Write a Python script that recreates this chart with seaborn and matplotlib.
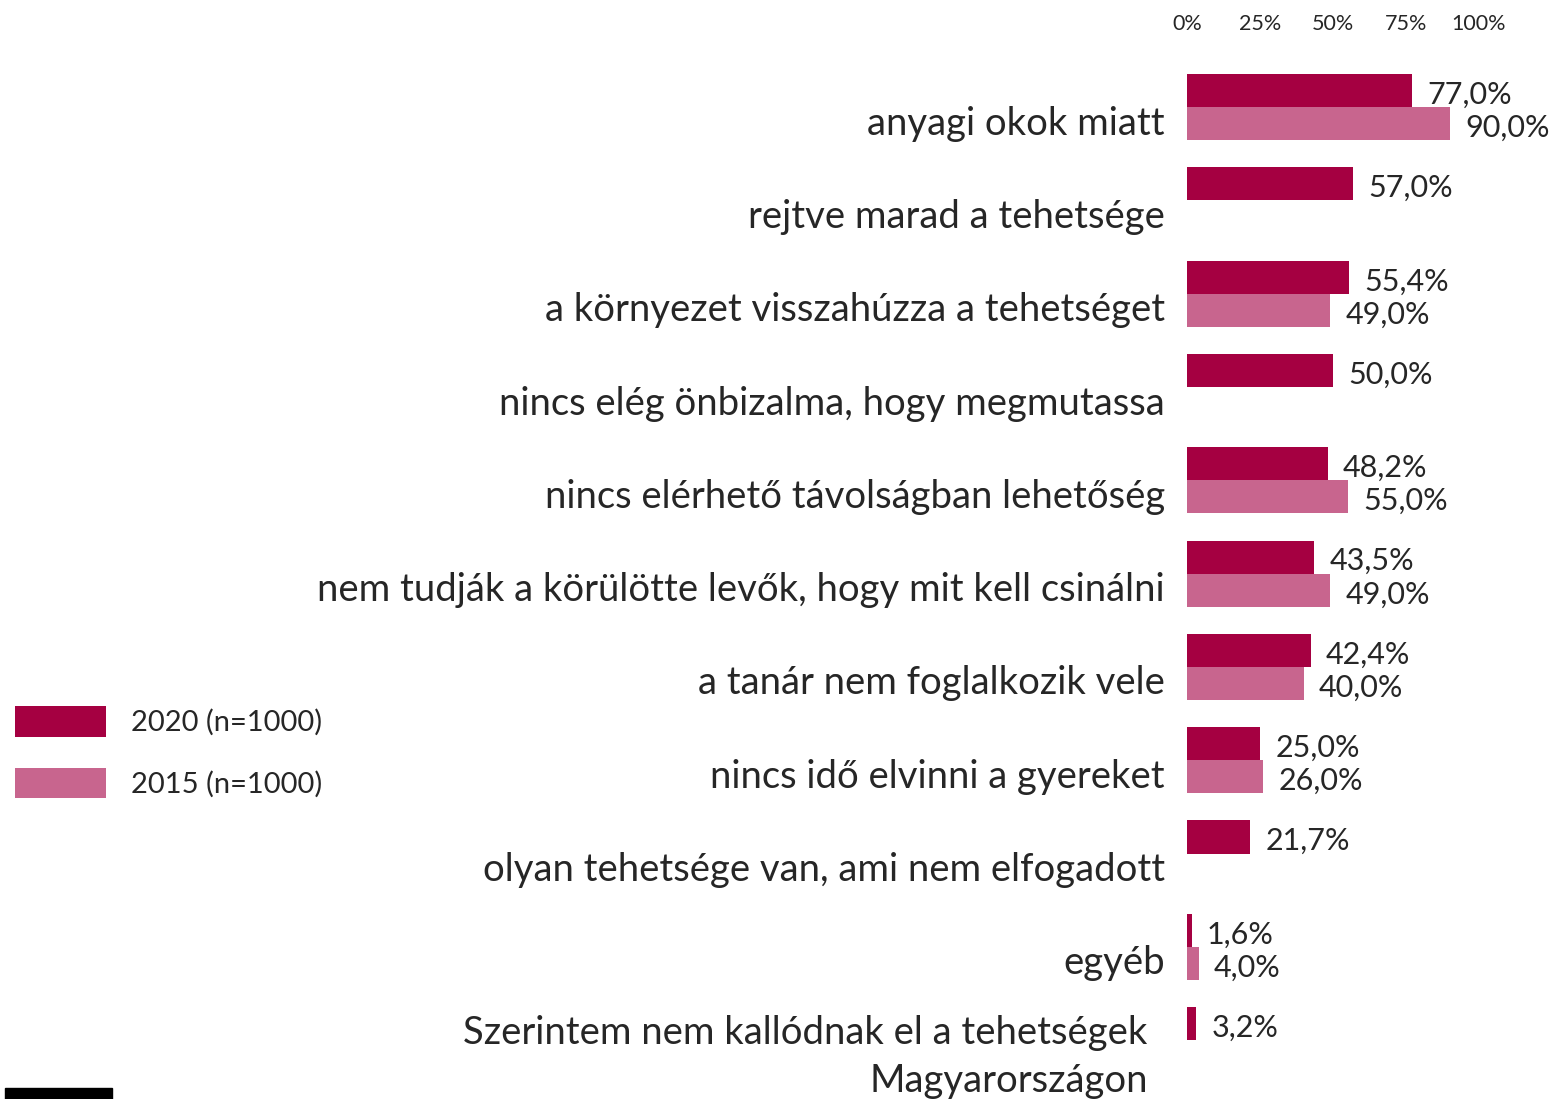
import numpy as np
import pandas as pd
import seaborn as sns
import matplotlib.pyplot as plt
from matplotlib.patches import Patch, Rectangle
from matplotlib.transforms import ScaledTranslation

categories = [
    "anyagi okok miatt",
    "rejtve marad a tehetsége",
    "a környezet visszahúzza a tehetséget",
    "nincs elég önbizalma, hogy megmutassa",
    "nincs elérhető távolságban lehetőség",
    "nem tudják a körülötte levők, hogy mit kell csinálni",
    "a tanár nem foglalkozik vele",
    "nincs idő elvinni a gyereket",
    "olyan tehetsége van, ami nem elfogadott",
    "egyéb",
    "Szerintem nem kallódnak el a tehetségek\nMagyarországon",
]
values_2020 = [77.0, 57.0, 55.4, 50.0, 48.2, 43.5, 42.4, 25.0, 21.7, 1.6, 3.2]
values_2015 = [90.0, np.nan, 49.0, np.nan, 55.0, 49.0, 40.0, 26.0, np.nan, 4.0, np.nan]
series = ["2020 (n=1000)", "2015 (n=1000)"]
xticks = [0, 25, 50, 75, 100]

df = pd.DataFrame({
    "cat": categories * 2,
    "val": values_2020 + values_2015,
    "year": [series[0]] * len(categories) + [series[1]] * len(categories),
})

sns.set_style("white")
plt.rcParams['font.family'] = ['Lato', 'DejaVu Sans']

colors = ["#A50041", "#C8658E"]

fig = plt.figure(figsize=(15.58, 10.99), dpi=100)
ax = fig.add_axes([1187 / 1558, 0, 1 - 1187 / 1558, 1 - 45 / 1099])

sns.barplot(data=df, x="val", y="cat", hue="year", hue_order=series,
            order=categories, palette=colors, width=0.71, orient="h",
            linewidth=0, saturation=1, ax=ax, legend=False)

ax.set_xlim(0, (1558 - 1187) / 292 * 100)
ax.set_ylim(10.63, -0.665)
sns.despine(ax=ax, left=True, bottom=True)

ax.xaxis.tick_top()
ax.set_xticks(xticks)
ax.set_xticklabels([f"{t}%" for t in xticks], fontsize=15.5)
ax.tick_params(axis="x", length=0, pad=8)
ax.tick_params(axis="y", length=0, pad=16, labelsize=27.5)
ax.set_xlabel("")
ax.set_ylabel("")

off = ScaledTranslation(0, -13 / 100, fig.dpi_scale_trans)
off_last = ScaledTranslation(-17 / 100, -7 / 100, fig.dpi_scale_trans)
ylabels = ax.get_yticklabels()
for lab in ylabels[:-1]:
    lab.set_transform(lab.get_transform() + off)
ylabels[-1].set_transform(ylabels[-1].get_transform() + off_last)
ylabels[-1].set_linespacing(1.42)

for cont in ax.containers:
    labels = [f"{v:.1f}".replace(".", ",") + "%" for v in cont.datavalues]
    texts = ax.bar_label(cont, labels=labels, padding=11, fontsize=22)
    for t in texts:
        t.xyann = (11, -3)

handles = [Patch(facecolor=c, edgecolor="none") for c in colors]
fig.legend(handles, series, loc="upper left",
           bbox_to_anchor=(-11 / 1558, 1 - 680 / 1099), frameon=False,
           fontsize=21, handlelength=3.12, handleheight=1.22,
           handletextpad=0.86, labelspacing=1.07)

fig.add_artist(Rectangle((5 / 1558, 0), 107 / 1558, 11 / 1099,
                         transform=fig.transFigure, color="black"))

plt.savefig("out.png", dpi=100)
